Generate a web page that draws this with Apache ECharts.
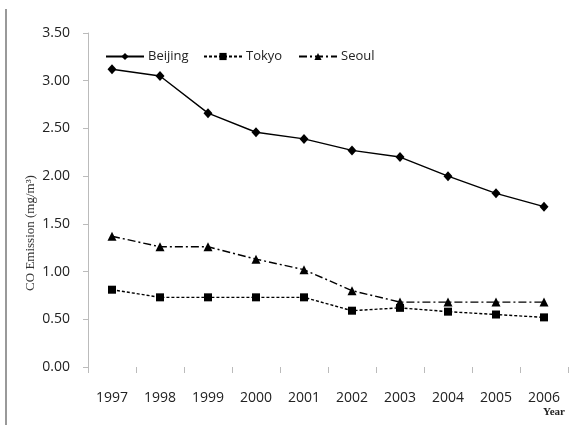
<!DOCTYPE html>
<html>
<head>
<meta charset="utf-8">
<script src="https://cdn.jsdelivr.net/npm/echarts@6/dist/echarts.min.js"></script>
<style>
  html, body { margin: 0; padding: 0; background: #fff; }
  #chart { width: 574px; height: 425px; }
</style>
</head>
<body>
<div id="chart"></div>
<script>
// CO emission by city, 1997-2006 (mg/m³)
const years = ['1997', '1998', '1999', '2000', '2001', '2002', '2003', '2004', '2005', '2006'];
const beijing = [3.12, 3.05, 2.66, 2.46, 2.39, 2.27, 2.20, 2.00, 1.82, 1.68];
const tokyo   = [0.81, 0.73, 0.73, 0.73, 0.73, 0.59, 0.62, 0.58, 0.55, 0.52];
const seoul   = [1.37, 1.26, 1.26, 1.13, 1.02, 0.80, 0.68, 0.68, 0.68, 0.68];
const yTicks  = [0, 0.5, 1, 1.5, 2, 2.5, 3, 3.5];

const font = '"Open Sans", "Liberation Sans", sans-serif';
const chart = echarts.init(document.getElementById('chart'));

function legendAt(left, name) {
  return {
    left: left, top: 45,
    itemWidth: 38, itemHeight: 9, itemGap: 0,
    data: [name],
    textStyle: { fontFamily: font, fontSize: 13, color: '#222', padding: [0, 0, 0, -1] }
  };
}

function lineSeries(name, data, symbol, size, dash) {
  return {
    name: name, type: 'line', data: data,
    symbol: symbol, symbolSize: size,
    itemStyle: { color: '#000' },
    lineStyle: { color: '#000', width: 1.4, type: dash },
    emphasis: { disabled: true }
  };
}

chart.setOption({
  animation: false,
  grid: { left: 88, right: 6, top: 33, bottom: 58 },
  legend: [legendAt(100, 'Beijing'), legendAt(198, 'Tokyo'), legendAt(293, 'Seoul')],
  xAxis: {
    type: 'category', data: years, boundaryGap: true,
    axisLine: { show: false },
    axisTick: { show: true, length: 6, lineStyle: { color: '#bbb' } },
    axisLabel: { fontFamily: font, fontSize: 14, color: '#222', margin: 24 }
  },
  yAxis: {
    type: 'value', min: 0, max: 3.5, interval: 0.5,
    axisLine: { show: true, lineStyle: { color: '#bbb' } },
    axisTick: { show: true, length: 5, lineStyle: { color: '#bbb' } },
    splitLine: { show: false },
    axisLabel: {
      fontFamily: font, fontSize: 14, color: '#222', margin: 18,
      formatter: v => yTicks.includes(v) ? v.toFixed(2) : ''
    }
  },
  series: [
    lineSeries('Beijing', beijing, 'diamond', [9, 10], 'solid'),
    lineSeries('Tokyo', tokyo, 'rect', 8, [3, 2]),
    lineSeries('Seoul', seoul, 'triangle', 9, [8, 3, 2, 3])
  ],
  graphic: [
    { type: 'rect', shape: { x: 5, y: 9, width: 2, height: 416 }, style: { fill: '#999' } },
    {
      type: 'text', x: 31, y: 233, rotation: Math.PI / 2,
      style: {
        text: 'CO Emission (mg/m³)', fontFamily: '"Liberation Serif", serif', fontSize: 13,
        fill: '#333', align: 'center', verticalAlign: 'middle'
      }
    },
    {
      type: 'text', x: 554, y: 412,
      style: {
        text: 'Year', fontFamily: '"Liberation Serif", serif', fontSize: 11, fontWeight: 'bold',
        fill: '#222', align: 'center', verticalAlign: 'middle'
      }
    }
  ]
});
</script>
</body>
</html>
